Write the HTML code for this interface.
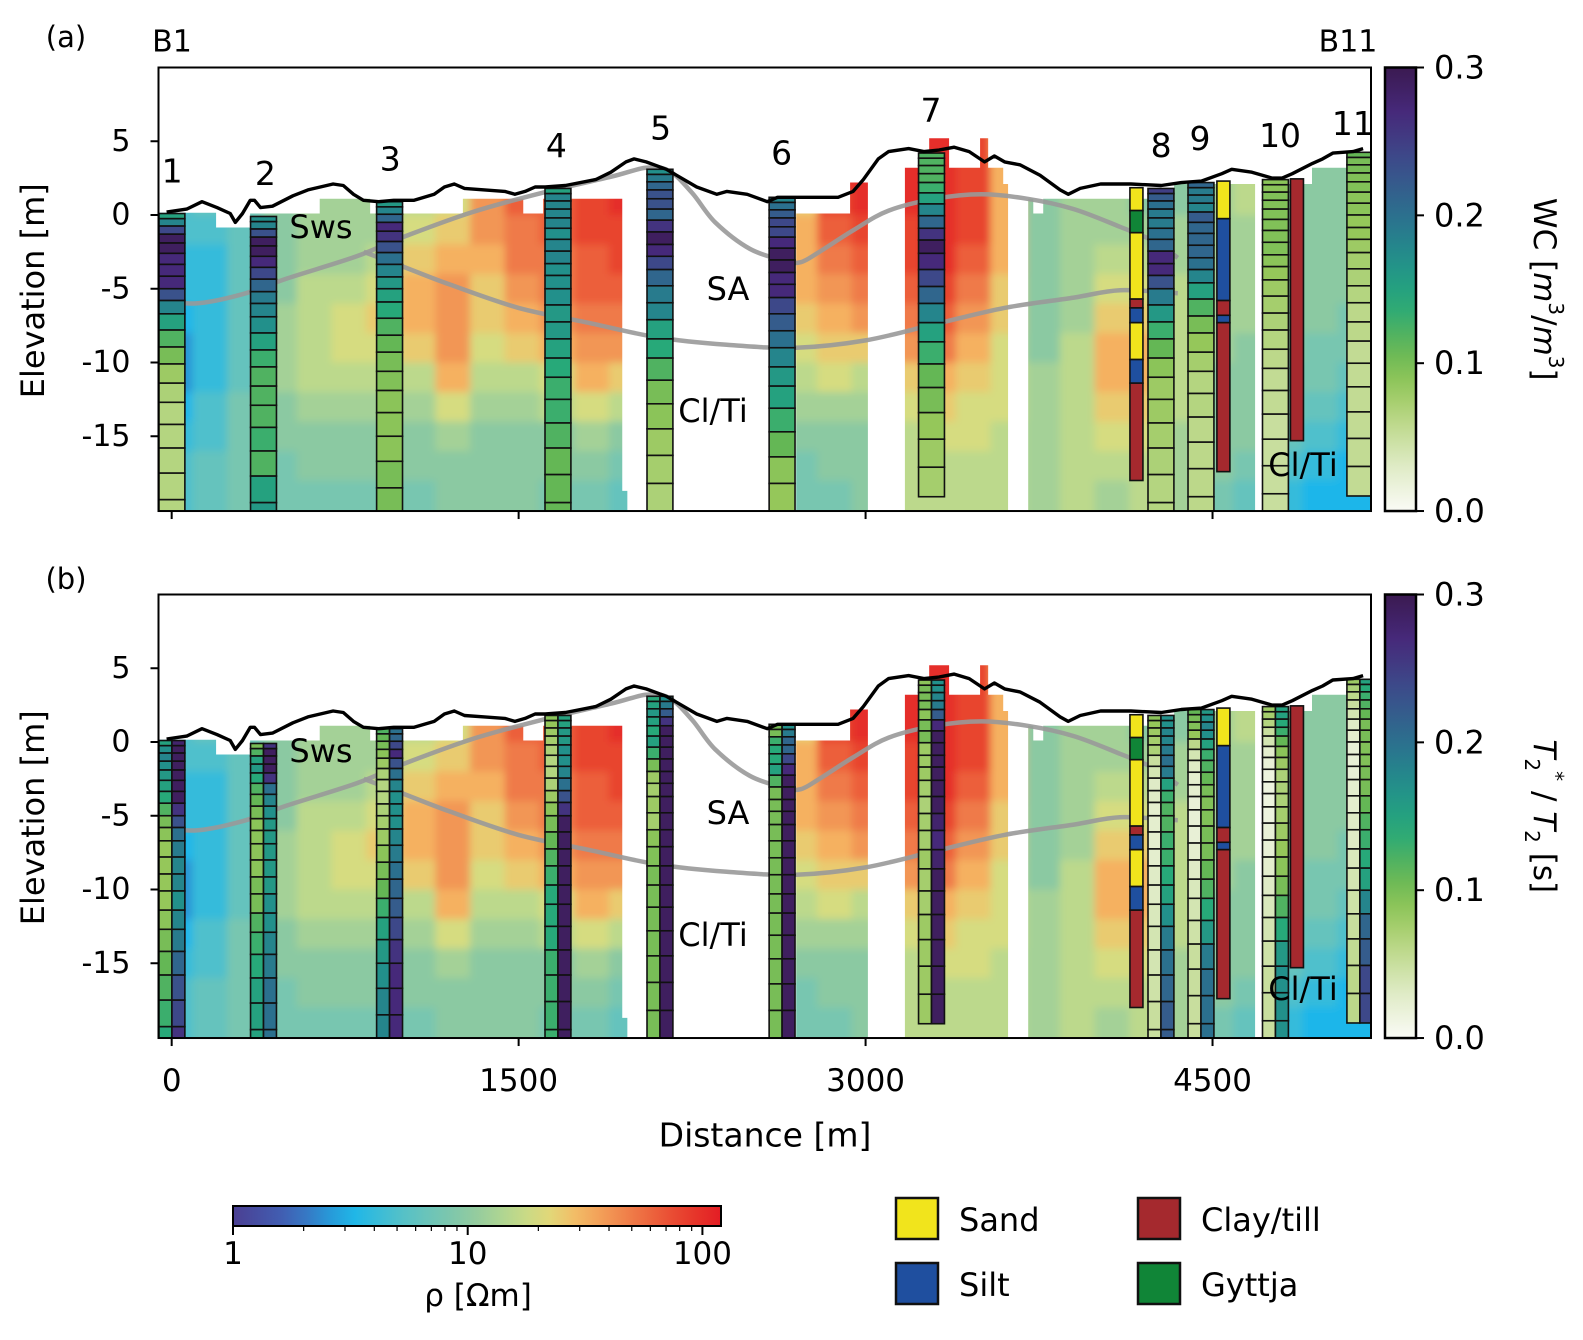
<!DOCTYPE html>
<html><head><meta charset="utf-8"><style>
html,body{margin:0;padding:0;background:#fff;}
svg{display:block;font-family:"DejaVu Sans","Liberation Sans",sans-serif;}
</style></head><body>
<svg id="fig" width="1583" height="1340" viewBox="0 0 1583 1340" xmlns="http://www.w3.org/2000/svg">
<defs>
<filter id="blur" x="-5%" y="-5%" width="110%" height="110%"><feGaussianBlur stdDeviation="4"/></filter>
<linearGradient id="rhoGrad" x1="0" x2="1" y1="0" y2="0"></linearGradient>
<linearGradient id="wcGrad" x1="0" x2="0" y1="1" y2="0"></linearGradient>
</defs>
<g id="root"></g>
</svg>
<script>
// ---------------- DATA ----------------
const gridX0 = -60;
const gridDx = 150;
const gridRowTop = 6;
const gridDz = 2;
// log10(rho)*10, columns left->right, rows top(6m)->bottom(-20m)
const rhoGrid = [
[7,7,7,7,6,6,5,4,4,5,6,7,7],
[8,8,8,7,6,6,6,6,6,7,7,8,8],
[9,9,9,8,8,8,8,8,8,9,9,9,9],
[10,10,10,10,10,10,11,11,11,10,10,9,9],
[11,11,11,11,11,12,12,12,12,11,10,10,9],
[11,11,11,11,11,12,13,13,12,11,10,10,9],
[11,11,11,11,12,13,14,13,12,11,10,10,9],
[12,12,12,13,14,15,15,14,12,11,10,10,9],
[13,13,13,14,15,16,16,16,15,13,11,10,10],
[16,16,16,16,15,14,14,13,12,11,10,10,10],
[18,18,18,17,17,16,15,14,12,11,10,10,10],
[18,18,18,18,17,17,16,15,13,12,10,10,9],
[19,19,19,19,18,18,17,16,15,13,11,10,9],
[20,20,20,19,19,18,17,16,14,12,10,9,8],
[10,10,10,10,10,10,10,10,10,10,10,10,10],
[10,10,10,10,10,10,10,10,10,10,10,10,10],
[10,10,10,10,10,10,10,10,10,10,10,10,10],
[10,10,10,10,10,10,10,10,10,10,10,10,10],
[13,13,14,15,15,15,14,13,12,11,10,9,9],
[20,20,19,18,17,16,15,14,13,11,10,10,9],
[20,20,20,19,18,17,16,14,12,11,10,10,10],
[20,20,20,19,19,18,17,16,14,13,12,12,12],
[20,20,20,20,20,19,18,17,15,14,13,12,12],
[19,19,19,19,18,17,16,15,14,13,13,12,12],
[15,15,15,15,15,14,14,13,13,13,12,12,12],
[10,10,10,10,10,10,10,10,11,11,11,11,11],
[10,10,11,11,11,11,11,12,12,12,12,12,12],
[10,10,11,11,12,13,14,15,15,14,13,12,11],
[10,10,10,11,12,13,14,15,15,14,13,12,12],
[10,10,10,11,11,12,12,12,12,12,11,11,11],
[11,11,11,11,11,11,11,11,10,10,10,10,9],
[12,12,12,11,11,11,11,10,10,10,10,9,8],
[10,10,10,10,10,10,10,10,9,9,8,7,6],
[10,10,10,10,10,10,10,9,9,8,7,6,5],
[10,10,10,10,10,10,9,9,8,7,6,5,5]
];
const segStart = [-57,192,339,640,858,1259,1520,1606,1948,2700,2933,3170,3275,3361,3495,3530,3595,3703,3725,3768,4334,4718,4930];
const segEnd   = [192,339,640,858,1259,1520,1606,1948,1970,2933,3010,3275,3361,3495,3530,3595,3616,3725,3768,4334,4684,4930,5185];
const segTop   = [0.15,-0.85,0.1,1.1,0.1,1.1,0.1,1.1,-18.7,0.1,2.2,3.2,5.2,3.2,5.2,3.2,2.1,1.1,0.1,1.1,2.1,2.1,3.2];

const surfX = [-22,65,131,196,253,275,306,340,358,384,436,524,589,698,742,786,829,895,960,1048,1135,1179,1222,1266,1353,1440,1484,1528,1571,1615,1702,1833,1899,1964,1999,2051,2139,2182,2270,2357,2401,2488,2575,2619,2750,2881,2946,2990,3055,3099,3186,3252,3317,3383,3448,3514,3557,3601,3667,3754,3841,3876,3928,4016,4147,4278,4365,4452,4540,4583,4670,4758,4801,4845,4932,4976,5020,5107,5151];
const surfZ = [0.2,0.4,0.9,0.5,0.1,-0.5,0.1,1.0,1.0,0.5,0.6,1.3,1.7,2.1,2.0,1.4,1.0,0.9,1.0,1.0,1.4,1.9,2.1,1.8,1.7,1.6,1.4,1.6,1.9,1.9,2.0,2.4,2.9,3.6,3.8,3.6,3.1,2.7,1.9,1.4,1.6,1.4,0.9,1.2,1.2,1.2,1.6,2.4,3.8,4.3,4.5,4.3,4.4,4.6,4.3,3.6,4.0,3.6,3.4,2.7,1.7,1.4,1.8,2.1,2.1,2.0,2.2,2.3,2.8,3.1,2.9,2.5,2.5,2.8,3.5,3.8,4.2,4.3,4.5];
const upperX = [-50,100,300,500,800,1000,1300,1600,1900,2050,2150,2250,2350,2500,2650,2720,2800,2950,3100,3300,3500,3700,3900,4100,4250,4350];
const upperZ = [-5.7,-6.0,-5.4,-4.3,-2.8,-1.5,0.2,1.5,2.6,3.2,3.0,1.5,-0.5,-2.3,-3.1,-3.2,-2.5,-1.0,0.3,1.1,1.4,1.1,0.4,-0.8,-1.8,-2.9];
const lowerX = [830,1000,1200,1500,1800,2100,2400,2700,3000,3300,3600,3900,4100,4350];
const lowerZ = [-2.5,-3.5,-4.7,-6.3,-7.3,-8.3,-8.8,-9.0,-8.5,-7.4,-6.3,-5.6,-5.1,-5.3];

const bhNames = ["1","2","3","4","5","6","7","8","9","10","11"];
const bhDist  = [1,397,942,1670,2111,2639,3285,4277,4450,4772,5137];
const bhTop   = [0.1,-0.1,0.9,1.8,3.1,1.2,4.2,1.8,2.2,2.4,4.25];
const bhBot   = [-21,-21,-21,-21,-21,-21,-19.5,-21,-21,-21,-19.4];
const bhLabelDist = [2,405,945,1663,2114,2637,3283,4278,4446,4792,5107];
const bhLabelZ = [3.0,2.8,3.8,4.7,5.9,4.2,7.1,4.7,5.2,5.4,6.2];
const layerDepth = [0,0.35,0.85,1.4,2,2.7,3.45,4.25,5.1,5.9,6.8,7.9,9.05,10.2,11.5,12.8,14.3,15.9,17.6,19.4,21.3,23.3];
const wcA = [
[0.15,0.18,0.24,0.29,0.29,0.27,0.27,0.27,0.23,0.18,0.15,0.12,0.1,0.08,0.07,0.065,0.065,0.065,0.065,0.065,0.065],
[0.17,0.18,0.23,0.29,0.29,0.27,0.24,0.21,0.19,0.18,0.17,0.15,0.13,0.12,0.12,0.12,0.13,0.12,0.15,0.16,0.16],
[0.16,0.18,0.21,0.27,0.26,0.23,0.2,0.18,0.16,0.15,0.14,0.12,0.11,0.1,0.095,0.09,0.09,0.09,0.1,0.1,0.1],
[0.15,0.18,0.18,0.18,0.18,0.17,0.18,0.18,0.17,0.17,0.17,0.16,0.16,0.15,0.14,0.13,0.13,0.12,0.11,0.11,0.11],
[0.17,0.19,0.21,0.23,0.23,0.21,0.26,0.29,0.27,0.24,0.21,0.19,0.18,0.15,0.14,0.12,0.1,0.09,0.08,0.075,0.07],
[0.18,0.2,0.22,0.24,0.24,0.27,0.29,0.29,0.27,0.27,0.24,0.22,0.2,0.18,0.16,0.15,0.13,0.11,0.09,0.085,0.085],
[0.12,0.12,0.12,0.12,0.13,0.15,0.18,0.21,0.26,0.29,0.27,0.24,0.21,0.18,0.15,0.13,0.11,0.1,0.085,0.08,0.075],
[0.25,0.22,0.2,0.19,0.19,0.2,0.21,0.27,0.27,0.23,0.19,0.16,0.13,0.11,0.09,0.08,0.08,0.075,0.07,0.065,0.065],
[0.21,0.19,0.19,0.18,0.22,0.21,0.21,0.21,0.2,0.18,0.15,0.12,0.1,0.085,0.075,0.065,0.065,0.06,0.06,0.06,0.06],
[0.09,0.09,0.095,0.095,0.095,0.095,0.095,0.095,0.09,0.085,0.08,0.075,0.07,0.065,0.06,0.055,0.055,0.05,0.05,0.05,0.05],
[0.11,0.1,0.1,0.095,0.095,0.09,0.09,0.085,0.085,0.08,0.075,0.07,0.065,0.06,0.06,0.055,0.055,0.055,0.055,0.055,0.055]
];
const t2sB = [
[0.15,0.17,0.18,0.17,0.16,0.15,0.14,0.12,0.1,0.09,0.085,0.085,0.085,0.085,0.09,0.1,0.11,0.12,0.13,0.14,0.14],
[0.1,0.12,0.15,0.16,0.14,0.12,0.11,0.1,0.09,0.09,0.09,0.09,0.1,0.1,0.12,0.13,0.14,0.15,0.15,0.15,0.15],
[0.12,0.11,0.1,0.09,0.08,0.07,0.065,0.065,0.07,0.075,0.08,0.09,0.1,0.11,0.13,0.15,0.16,0.17,0.18,0.18,0.18],
[0.09,0.085,0.08,0.075,0.07,0.065,0.065,0.07,0.08,0.09,0.1,0.11,0.12,0.13,0.14,0.14,0.14,0.13,0.13,0.13,0.13],
[0.14,0.15,0.16,0.15,0.14,0.15,0.13,0.1,0.08,0.075,0.08,0.075,0.09,0.095,0.1,0.1,0.1,0.1,0.1,0.1,0.1],
[0.1,0.1,0.13,0.14,0.14,0.15,0.12,0.1,0.1,0.1,0.1,0.1,0.1,0.1,0.1,0.1,0.1,0.1,0.1,0.1,0.1],
[0.09,0.1,0.1,0.1,0.09,0.1,0.1,0.08,0.08,0.08,0.075,0.07,0.075,0.075,0.08,0.075,0.075,0.08,0.08,0.08,0.08],
[0.09,0.085,0.08,0.075,0.07,0.05,0.04,0.03,0.03,0.025,0.025,0.025,0.025,0.03,0.03,0.035,0.04,0.04,0.045,0.05,0.05],
[0.11,0.1,0.095,0.085,0.06,0.04,0.03,0.025,0.025,0.02,0.02,0.02,0.025,0.03,0.035,0.04,0.045,0.05,0.05,0.05,0.05],
[0.08,0.075,0.065,0.05,0.04,0.025,0.02,0.015,0.015,0.015,0.015,0.02,0.02,0.025,0.03,0.035,0.04,0.045,0.05,0.05,0.05],
[0.08,0.07,0.06,0.05,0.04,0.03,0.025,0.02,0.02,0.02,0.025,0.025,0.03,0.03,0.035,0.04,0.045,0.05,0.055,0.06,0.06]
];
const t2B = [
[0.28,0.29,0.29,0.29,0.29,0.29,0.29,0.26,0.23,0.2,0.19,0.18,0.18,0.17,0.18,0.19,0.21,0.23,0.24,0.26,0.26],
[0.26,0.29,0.29,0.29,0.26,0.2,0.18,0.17,0.16,0.16,0.16,0.16,0.16,0.17,0.17,0.18,0.19,0.2,0.2,0.2,0.2],
[0.2,0.21,0.24,0.27,0.23,0.2,0.18,0.17,0.17,0.17,0.18,0.19,0.2,0.21,0.22,0.24,0.26,0.27,0.27,0.27,0.27],
[0.15,0.15,0.16,0.16,0.17,0.17,0.18,0.2,0.23,0.26,0.29,0.29,0.29,0.29,0.29,0.29,0.29,0.29,0.29,0.29,0.29],
[0.17,0.19,0.22,0.26,0.29,0.29,0.29,0.29,0.29,0.29,0.29,0.29,0.29,0.29,0.29,0.29,0.29,0.29,0.29,0.29,0.29],
[0.17,0.19,0.21,0.21,0.24,0.27,0.29,0.29,0.29,0.29,0.29,0.29,0.29,0.29,0.29,0.29,0.29,0.29,0.29,0.29,0.29],
[0.17,0.17,0.18,0.19,0.22,0.27,0.29,0.29,0.29,0.29,0.29,0.29,0.28,0.27,0.28,0.29,0.29,0.29,0.29,0.29,0.29],
[0.17,0.17,0.18,0.18,0.19,0.2,0.19,0.15,0.13,0.12,0.12,0.13,0.13,0.14,0.15,0.17,0.19,0.2,0.21,0.22,0.22],
[0.16,0.17,0.18,0.17,0.15,0.13,0.12,0.11,0.1,0.095,0.095,0.1,0.1,0.11,0.12,0.14,0.16,0.19,0.2,0.2,0.2],
[0.15,0.15,0.14,0.13,0.11,0.09,0.08,0.07,0.07,0.07,0.075,0.08,0.085,0.09,0.1,0.12,0.14,0.16,0.17,0.17,0.17],
[0.15,0.14,0.13,0.12,0.11,0.1,0.1,0.095,0.095,0.1,0.1,0.11,0.12,0.13,0.14,0.15,0.18,0.21,0.22,0.24,0.24]
];
const lithDist = [4171,4547,4865];
const lithTops = [[1.85,0.3,-1.2,-5.7,-6.3,-7.3,-9.8,-11.4],[2.3,-0.25,-5.8,-6.8,-7.3],[2.45]];
const lithBots = [[0.3,-1.2,-5.7,-6.3,-7.3,-9.8,-11.4,-18.0],[-0.25,-5.8,-6.8,-7.3,-17.4],[-15.3]];
const lithType = [["sand","gyttja","sand","clay","silt","sand","silt","clay"],["sand","silt","clay","silt","clay"],["clay"]];
const lithColors = {sand:"#f1e41c",silt:"#1f4f9f",clay:"#a5292e",gyttja:"#108537"};
const yTicks = [5,0,-5,-10,-15];
const xTicks = [0,1500,3000,4500];
const cbTicks = [0.0,0.1,0.2,0.3];
const rhoTicks = [1,10,100];

// ---------------- SCALES ----------------
const panelTop = [67.5,594.5];
const X0 = 158.5, X1 = 1371, DMIN = -57, PXM = 0.2313, PXE = 14.75, ZMAX = 10.0, ZMIN = -20.07;
function xs(m){return X0 + (m - DMIN)*PXM;}
function ys(z,p){return panelTop[p] + (ZMAX - z)*PXE;}
const NS = "http://www.w3.org/2000/svg";
const root = document.getElementById('root');
function el(tag, attrs, parent){const e=document.createElementNS(NS,tag);for(const k in attrs)e.setAttribute(k,attrs[k]);(parent||root).appendChild(e);return e;}
function hex(c){return [parseInt(c.substr(1,2),16),parseInt(c.substr(3,2),16),parseInt(c.substr(5,2),16)];}
function interp(stops,v){
  if(v<=stops[0][0])return stops[0][1];
  if(v>=stops[stops.length-1][0])return stops[stops.length-1][1];
  for(let i=0;i<stops.length-1;i++){const a=stops[i],b=stops[i+1];if(v>=a[0]&&v<=b[0]){const t=(v-a[0])/(b[0]-a[0]);const ca=hex(a[1]),cb=hex(b[1]);return 'rgb('+ca.map((x,j)=>Math.round(x+(cb[j]-x)*t)).join(',')+')';}}
}
function smoothPath(px,py){
  let d='M'+px[0].toFixed(1)+','+py[0].toFixed(1);
  for(let i=0;i<px.length-1;i++){
    const x0=px[Math.max(i-1,0)],y0=py[Math.max(i-1,0)],x1=px[i],y1=py[i],x2=px[i+1],y2=py[i+1],x3=px[Math.min(i+2,px.length-1)],y3=py[Math.min(i+2,px.length-1)];
    d+='C'+(x1+(x2-x0)/6).toFixed(1)+','+(y1+(y2-y0)/6).toFixed(1)+' '+(x2-(x3-x1)/6).toFixed(1)+','+(y2-(y3-y1)/6).toFixed(1)+' '+x2.toFixed(1)+','+y2.toFixed(1);
  }
  return d;
}
const rhoStops=[[0,"#4b3f92"],[0.25,"#3f64b8"],[0.5,"#1bb6ea"],[0.75,"#5cc2c4"],[1.0,"#8bc9a2"],[1.2,"#bcd98c"],[1.33,"#dedd7c"],[1.48,"#f6b763"],[1.7,"#ef7a48"],[1.9,"#e8442f"],[2.08,"#e31d24"]];
const wcStops=[[0,"#fafbf6"],[0.03,"#dfebc6"],[0.06,"#bcd88a"],[0.085,"#95c75a"],[0.11,"#64b755"],[0.14,"#27a979"],[0.17,"#22908b"],[0.2,"#2b708e"],[0.235,"#3c4d8b"],[0.27,"#46297a"],[0.3,"#3b1a51"]];
const rhoCol = v => interp(rhoStops, v/10);
const wcCol = v => interp(wcStops, v);

const rg=document.getElementById('rhoGrad');
for(let i=0;i<=20;i++){const v=2.08*i/20;el('stop',{offset:(i/20),'stop-color':interp(rhoStops,v)},rg);}
const wg=document.getElementById('wcGrad');
for(let i=0;i<=20;i++){const v=0.3*i/20;el('stop',{offset:(i/20),'stop-color':interp(wcStops,v)},wg);}

// ---------------- PANELS ----------------
function drawPanel(p){
  const pg=el('g',{});
  
  
  const cp=el('clipPath',{id:'cov'+p},document.querySelector('defs'));
  segStart.forEach((s,i)=>{el('rect',{x:xs(s),y:ys(segTop[i],p),width:xs(segEnd[i])-xs(s),height:ys(ZMIN,p)-ys(segTop[i],p)},cp);});
  const cg=el('g',{'clip-path':'url(#cov'+p+')'},pg);
  const hg=el('g',{filter:'url(#blur)'},cg);
  
  
  rhoGrid.forEach((col,i)=>{
    col.forEach((v,r)=>{
      let m0=gridX0+i*gridDx, m1=m0+gridDx, z0=gridRowTop-r*gridDz, z1=z0-gridDz;
      let xa=xs(m0), xb=xs(m1), ya=ys(z0,p), yb=ys(z1,p);
      if(i===0)xa-=30; if(i===rhoGrid.length-1)xb+=30;
      if(r===0)ya-=30; if(r===col.length-1)yb+=30;
      const c=el('rect',{x:xa,y:ya,width:xb-xa+0.5,height:yb-ya+0.5,fill:rhoCol(v)},hg);
      
      
    });
  });
  const ac=el('clipPath',{id:'ax'+p},document.querySelector('defs'));
  el('rect',{x:X0,y:panelTop[p],width:X1-X0,height:ys(ZMIN,p)-panelTop[p]},ac);
  const ag=el('g',{'clip-path':'url(#ax'+p+')'},pg);
  const up=el('path',{d:smoothPath(upperX.map(xs),upperZ.map(z=>ys(z,p))),fill:'none',stroke:'#999',"stroke-width":4.5,"stroke-linejoin":"round","stroke-opacity":0.9},ag);
  
  
  const lo=el('path',{d:smoothPath(lowerX.map(xs),lowerZ.map(z=>ys(z,p))),fill:'none',stroke:'#999',"stroke-width":4.5,"stroke-linejoin":"round","stroke-opacity":0.9},ag);
  
  
  const wHalf = 56*PXM;
  bhDist.forEach((d,b)=>{
    const bg=el('g',{},ag);
    
    
    const cols = p===0 ? [[wcA[b], xs(d)-wHalf, 2*wHalf]] : [[t2sB[b], xs(d)-wHalf, wHalf],[t2B[b], xs(d), wHalf]];
    cols.forEach(([vals,x0,w])=>{
      vals.forEach((v,k)=>{
        const zt=bhTop[b]-layerDepth[k]; let zb=bhTop[b]-layerDepth[k+1];
        if(zt<=bhBot[b])return; if(zb<bhBot[b])zb=bhBot[b];
        const c=el('rect',{x:x0,y:ys(zt,p),width:w,height:ys(zb,p)-ys(zt,p),fill:wcCol(v),stroke:'#111','stroke-width':1.6},bg);
        
        
      });
    });
  });
  lithDist.forEach((d,l)=>{
    const lg=el('g',{},ag);
    
    
    lithTops[l].forEach((zt,k)=>{
      const zb=lithBots[l][k];
      const r=el('rect',{x:xs(d)-6.5,y:ys(zt,p),width:13,height:ys(zb,p)-ys(zt,p),fill:lithColors[lithType[l][k]],stroke:'#111','stroke-width':1.6},lg);
      
      
    });
  });
  const sf=el('path',{d:surfX.map((x,i)=>(i?'L':'M')+xs(x).toFixed(1)+','+ys(surfZ[i],p).toFixed(1)).join(''),fill:'none',stroke:'#000',"stroke-width":3.4,"stroke-linejoin":"round"},pg);
  
  
  const fr=el('rect',{x:X0,y:panelTop[p],width:X1-X0,height:ys(ZMIN,p)-panelTop[p],fill:'none',stroke:'#000','stroke-width':2},pg);
  
  
  yTicks.forEach(t=>{
    const y=ys(t,p);
    el('line',{x1:X0-8,x2:X0,y1:y,y2:y,stroke:'#000','stroke-width':2},pg);
    const tx=el('text',{x:X0-28,y:y,'text-anchor':'end','dominant-baseline':'central','font-size':30},pg);
    tx.textContent=String(t);
    
    
  });
  xTicks.forEach(t=>{
    const x=xs(t), yb=ys(ZMIN,p);
    el('line',{x1:x,x2:x,y1:yb,y2:yb+8,stroke:'#000','stroke-width':2},pg);
    if(p===1){
      const tx=el('text',{x:x,y:yb+43,'text-anchor':'middle','dominant-baseline':'central','font-size':31},pg);
      tx.textContent=String(t);
      
      
    }
  });
  const yl=el('text',{x:0,y:0,transform:'translate(33,'+(ys(-5,p)+2)+') rotate(-90)','text-anchor':'middle','dominant-baseline':'central','font-size':32},pg);
  yl.textContent='Elevation [m]';
  
  
  if(p===0){
    bhNames.forEach((n,b)=>{
      const t=el('text',{x:xs(bhLabelDist[b]),y:ys(bhLabelZ[b],p),'text-anchor':'middle','dominant-baseline':'central','font-size':33},pg);
      t.textContent=n;
      
      
    });
  }
  const units=[["Sws",321,227],["SA",728,289],["Cl/Ti",713,411],["Cl/Ti",1303,465]];
  units.forEach(u=>{
    const t=el('text',{x:u[1],y:u[2]+p*524,'text-anchor':'middle','dominant-baseline':'central','font-size':32},pg);
    t.textContent=u[0];
    
    
  });
  const cy0=panelTop[p], cy1=ys(ZMIN,p), cx=1385, cw=31;
  const cb=el('g',{},pg);
  
  
  el('rect',{x:cx,y:cy0,width:cw,height:cy1-cy0,fill:'url(#wcGrad)',stroke:'#000','stroke-width':2.5},cb);
  cbTicks.forEach(t=>{
    const y=cy1-(cy1-cy0)*t/0.3;
    el('line',{x1:cx+cw,x2:cx+cw+8,y1:y,y2:y,stroke:'#000','stroke-width':2},cb);
    const tx=el('text',{x:cx+cw+18,y:y,'dominant-baseline':'central','font-size':32},cb);
    tx.textContent=t.toFixed(1);
    
    
  });
  const lab=el('text',{x:0,y:0,transform:'translate(1544,'+((cy0+cy1)/2)+') rotate(90)','text-anchor':'middle','dominant-baseline':'central','font-size':31},cb);
  if(p===0){lab.innerHTML='WC [<tspan font-style="italic">m</tspan><tspan baseline-shift="super" font-size="20">3</tspan>/<tspan font-style="italic">m</tspan><tspan baseline-shift="super" font-size="20">3</tspan>]';}
  else{lab.innerHTML='<tspan font-style="italic">T</tspan><tspan baseline-shift="sub" font-size="20">2</tspan><tspan baseline-shift="super" font-size="20">*</tspan> / <tspan font-style="italic">T</tspan><tspan baseline-shift="sub" font-size="20">2</tspan> [s]';}
  
  
}
drawPanel(0);
drawPanel(1);

function txt(s,x,y,fs,name,anchor){const t=el('text',{x:x,y:y,'font-size':fs,'text-anchor':anchor||'middle','dominant-baseline':'central'});t.textContent=s;return t;}
txt('(a)',66,37,29,'panel-a-label');
txt('B1',172,42,30,'start-borehole-label');
txt('B11',1348,42,30,'end-borehole-label');
txt('(b)',66,579,29,'panel-b-label');
txt('Distance [m]',765,1135,33,'x-axis-title');

const rcb=el('g',{});


const RX0=233, RX1=721, RY0=1206, RY1=1226, RMAX=Math.log10(120);
function rx(v){return RX0+(RX1-RX0)*Math.log10(v)/RMAX;}
el('rect',{x:RX0,y:RY0,width:RX1-RX0,height:RY1-RY0,fill:'url(#rhoGrad)',stroke:'#000','stroke-width':2},rcb);
for(let d=1;d<=100;d*=10){for(let k=1;k<10;k++){const v=d*k;if(v>120)break;const major=(k===1);el('line',{x1:rx(v),x2:rx(v),y1:RY1,y2:RY1+(major?9:5),stroke:'#000','stroke-width':major?2:1.2},rcb);}}
rhoTicks.forEach(t=>{const tt=el('text',{x:rx(t),y:RY1+28,'text-anchor':'middle','dominant-baseline':'central','font-size':31},rcb);tt.textContent=String(t);});
const rl=el('text',{x:478,y:1296,'text-anchor':'middle','dominant-baseline':'central','font-size':31},rcb);
rl.textContent='ρ [Ωm]';



const leg=el('g',{});


const legItems=[["Sand","sand",896,1198],["Silt","silt",896,1263],["Clay/till","clay",1138,1198],["Gyttja","gyttja",1138,1263]];
legItems.forEach(it=>{
  const g=el('g',{},leg);
  
  
  el('rect',{x:it[2],y:it[3],width:42,height:41,fill:lithColors[it[1]],stroke:'#111','stroke-width':2.5},g);
  const t=el('text',{x:it[2]+63,y:it[3]+22,'font-size':32,'dominant-baseline':'central'},g);
  t.textContent=it[0];
});
</script>
</body></html>
